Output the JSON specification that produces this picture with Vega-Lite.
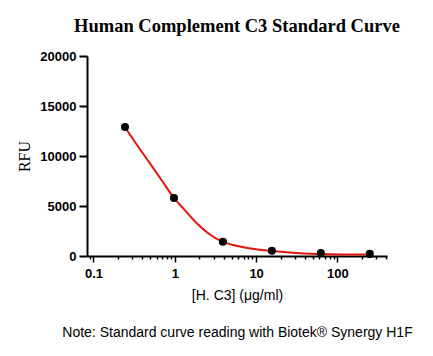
{
  "$schema": "https://vega.github.io/schema/vega-lite/v6.json",
  "width": 300,
  "height": 200,
  "autosize": {"type": "none"},
  "padding": {"left": 87, "top": 56, "right": 46, "bottom": 100},
  "background": "white",
  "config": {"view": {"stroke": null}, "axis": {"grid": false}},
  "title": {
    "text": "Human Complement C3 Standard Curve",
    "font": "Liberation Serif",
    "fontSize": 18.5,
    "fontWeight": "bold",
    "color": "black",
    "anchor": "middle",
    "offset": 15
  },
  "datasets": {
    "points": [
      {"conc": 0.244, "rfu": 12900},
      {"conc": 0.977, "rfu": 5800},
      {"conc": 3.906, "rfu": 1430},
      {"conc": 15.625, "rfu": 520},
      {"conc": 62.5, "rfu": 290},
      {"conc": 250, "rfu": 210}
    ],
    "curve": [
      {"conc": 0.244, "rfu": 12880},
      {"conc": 0.35, "rfu": 11000},
      {"conc": 0.495, "rfu": 9260},
      {"conc": 0.7, "rfu": 7500},
      {"conc": 0.977, "rfu": 5800},
      {"conc": 1.27, "rfu": 4770},
      {"conc": 1.86, "rfu": 3270},
      {"conc": 2.6, "rfu": 2250},
      {"conc": 3.84, "rfu": 1430},
      {"conc": 5.2, "rfu": 1100},
      {"conc": 6.96, "rfu": 880},
      {"conc": 10, "rfu": 680},
      {"conc": 15.6, "rfu": 500},
      {"conc": 31, "rfu": 300},
      {"conc": 61, "rfu": 190},
      {"conc": 120, "rfu": 160},
      {"conc": 250, "rfu": 150}
    ]
  },
  "layer": [
    {
      "data": {"name": "curve"},
      "mark": {"type": "line", "color": "#e3140c", "strokeWidth": 2, "interpolate": "monotone"},
      "encoding": {
        "x": {
          "field": "conc",
          "type": "quantitative",
          "scale": {"type": "log", "domain": [0.0832, 407], "nice": false},
          "axis": {
            "values": [0.09, 0.1, 0.2, 0.3, 0.4, 0.5, 0.6, 0.7, 0.8, 0.9, 1, 2, 3, 4, 5, 6, 7, 8, 9, 10, 20, 30, 40, 50, 60, 70, 80, 90, 100, 200, 300, 400],
            "labelExpr": "datum.value == 0.1 ? '0.1' : datum.value == 1 ? '1' : datum.value == 10 ? '10' : datum.value == 100 ? '100' : ''",
            "labelOverlap": false,
            "labelFlush": false,
            "labelFont": "Liberation Sans",
            "labelFontSize": 13,
            "labelFontWeight": "bold",
            "labelColor": "black",
            "labelPadding": 5,
            "tickSize": {"condition": {"test": "datum.value == 0.1 || datum.value == 1 || datum.value == 10 || datum.value == 100", "value": 6}, "value": 3},
            "tickWidth": 1.5,
            "tickColor": "black",
            "domainColor": "black",
            "domainWidth": 2,
            "title": ["[H. C3] (μg/ml)", "Note: Standard curve reading with Biotek® Synergy H1F"],
            "titleFont": "Liberation Sans",
            "titleFontSize": 14,
            "titleFontWeight": "normal",
            "titleColor": "black",
            "titleLineHeight": 37,
            "titlePadding": 8
          }
        },
        "y": {
          "field": "rfu",
          "type": "quantitative",
          "scale": {"domain": [0, 20000], "nice": false},
          "axis": {
            "values": [0, 5000, 10000, 15000, 20000],
            "format": "d",
            "labelFont": "Liberation Sans",
            "labelFontSize": 13,
            "labelFontWeight": "bold",
            "labelColor": "black",
            "labelPadding": 3,
            "tickSize": 8,
            "tickWidth": 2,
            "tickColor": "black",
            "domainColor": "black",
            "domainWidth": 2,
            "title": "RFU",
            "titleFont": "Liberation Serif",
            "titleFontSize": 16,
            "titleFontWeight": "normal",
            "titleColor": "black",
            "titlePadding": 7
          }
        }
      }
    },
    {
      "data": {"name": "points"},
      "mark": {"type": "point", "filled": true, "color": "black", "size": 65, "opacity": 1},
      "encoding": {
        "x": {"field": "conc", "type": "quantitative"},
        "y": {"field": "rfu", "type": "quantitative"}
      }
    }
  ]
}
